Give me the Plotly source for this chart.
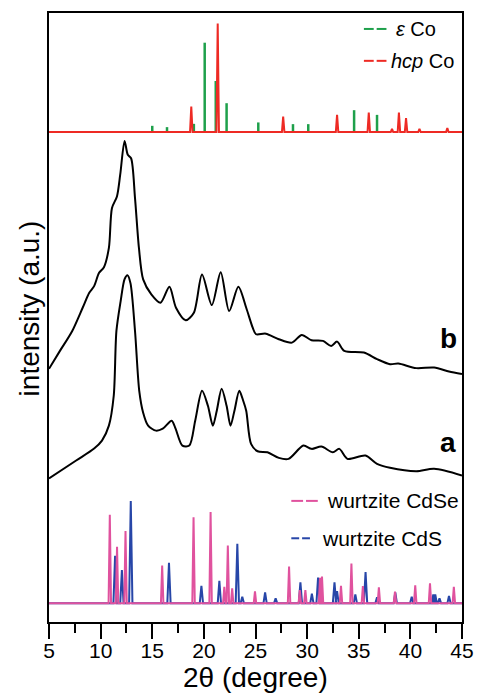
import plotly.graph_objects as go

# ---------------- data ----------------
# hcp Co reference peaks (2theta, relative height)
hcp_pos = [18.78, 21.34, 27.68, 32.9, 35.97, 38.22, 38.89, 39.58, 40.88, 43.58]
hcp_h   = [25.7, 109, 15.7, 17.3, 19.7, 3.3, 19.7, 14, 3.3, 4]
# epsilon Co reference sticks
eps_pos = [15.0, 16.43, 19.03, 20.08, 21.15, 22.2, 25.27, 28.63, 30.11, 34.55, 36.77]
eps_h   = [6.3, 5, 8.3, 89.7, 51.3, 29, 9.7, 8, 8, 22, 17.3]

# wurtzite CdSe reference peaks
cdse_pos = [10.89, 11.59, 12.41, 15.96, 19.0, 20.65, 21.98, 22.32, 22.74, 24.95, 28.25,
            29.29, 29.83, 31.25, 31.44, 33.28, 34.29, 35.4, 36.95, 38.51, 40.47, 41.9, 44.21]
cdse_h   = [89, 56.7, 72.7, 38, 86.3, 91.7, 16.7, 58, 15, 12, 37,
            13.3, 13.3, 25.7, 27, 17.7, 40, 17.3, 16, 11.7, 18, 20, 16.7]
# wurtzite CdS reference peaks
cds_pos = [11.4, 12.06, 12.92, 16.62, 19.76, 21.5, 23.24, 23.72, 25.93, 26.95, 29.35, 30.46,
           31.06, 32.65, 32.9, 34.67, 35.66, 36.77, 38.54, 40.13, 42.22, 42.41, 42.82, 43.74]
cds_h   = [47.7, 33.3, 102.7, 40.7, 17.7, 22.7, 59.7, 6.7, 11, 5, 21, 9.7,
           26, 21, 12.3, 9, 31.3, 6, 11, 6.7, 9, 9, 5, 7.3]

# measured pattern b (upper)
b_x = [5.0, 6.0, 7.25, 8.26, 8.9, 9.37, 9.85, 10.32, 10.8, 11.1, 11.58, 11.9, 12.32, 12.63,
       12.95, 13.33, 13.71, 14.12, 14.91, 15.8, 16.66, 17.3, 18.24, 19.03, 19.82, 20.77,
       21.63, 22.45, 23.34, 24.1, 24.73, 25.05, 26.0, 27.26, 28.53, 29.48, 30.43, 31.53,
       32.33, 32.9, 33.6, 35.5, 36.77, 38.03, 38.83, 40.57, 42.3, 43.74, 45.0]
b_y = [254, 271, 292, 315.3, 330.3, 337, 350.3, 356, 375.3, 415.3, 427, 449, 482.7, 468.7,
       465.3, 425.3, 375.3, 343.7, 328.7, 320.3, 336.3, 315.3, 302.7, 310.3, 348.7, 318,
       351, 312, 336.3, 315.3, 295.3, 288.7, 289.3, 283.7, 280.3, 288, 282.7, 282,
       277, 281.3, 272, 270.3, 263.7, 258.7, 259.3, 254.7, 255.3, 251.3, 248.7]

# measured pattern a (lower)
a_x = [5.0, 7.63, 9.37, 10.13, 10.8, 11.27, 11.53, 11.94, 12.32, 12.6, 12.89, 13.33, 13.74,
       14.12, 14.6, 15.36, 16.02, 16.88, 17.26, 17.92, 18.59, 19.16, 19.82, 20.39, 20.87,
       21.25, 21.72, 22.2, 22.58, 22.96, 23.43, 23.81, 24.1, 24.57, 25.2, 26.16, 27.26,
       28.2, 29.64, 30.43, 31.38, 32.49, 33.12, 33.9, 35.65, 36.77, 38.03, 40.57, 42.3, 45.0]
a_y = [144, 162, 174, 182, 197, 227, 292, 322, 344, 348, 340, 292, 232,
       210, 197, 192, 194, 202, 194, 177, 177, 202, 232, 217, 197,
       212, 234, 217, 197, 212, 232, 222, 212, 178.7, 171.3, 170.3, 164.7,
       163.7, 177, 173.7, 176, 170.3, 173.7, 163.7, 167, 158.7, 154.7, 151.3, 153.7, 147]

co_base = 491.5
cd_base = 18.7

GREEN = "#1ea04b"
RED = "#ee2a24"
PINK = "#e0529e"
BLUE = "#2746a8"
FONT = "Liberation Sans, Arial, sans-serif"


def peak_line(pos, h, base, hw):
    xs, ys = [5.0], [base]
    for p, v in sorted(zip(pos, h)):
        xs += [p - hw, p, p + hw]
        ys += [base, base + v, base]
    xs.append(45.0)
    ys.append(base)
    return xs, ys


def sticks(pos, h, base):
    xs, ys = [], []
    for p, v in zip(pos, h):
        xs += [p, p, None]
        ys += [base, base + v, None]
    return xs, ys


fig = go.Figure()

ex, ey = sticks(eps_pos, eps_h, co_base)
fig.add_trace(go.Scatter(x=ex, y=ey, mode="lines", line=dict(color=GREEN, width=2.5),
                         showlegend=False, hoverinfo="skip"))
rx, ry = peak_line(hcp_pos, hcp_h, co_base, 0.12)
fig.add_trace(go.Scatter(x=rx, y=ry, mode="lines", line=dict(color=RED, width=2),
                         showlegend=False, hoverinfo="skip"))

fig.add_trace(go.Scatter(x=b_x, y=b_y, mode="lines", line=dict(color="black", width=2, shape="spline", smoothing=0.8),
                         showlegend=False))
fig.add_trace(go.Scatter(x=a_x, y=a_y, mode="lines", line=dict(color="black", width=2, shape="spline", smoothing=0.8),
                         showlegend=False))

bx, by = peak_line(cds_pos, cds_h, cd_base, 0.16)
fig.add_trace(go.Scatter(x=bx, y=by, mode="lines", line=dict(color=BLUE, width=2),
                         showlegend=False, hoverinfo="skip"))
px_, py_ = peak_line(cdse_pos, cdse_h, cd_base, 0.12)
fig.add_trace(go.Scatter(x=px_, y=py_, mode="lines", line=dict(color=PINK, width=2),
                         showlegend=False, hoverinfo="skip"))

# ---------------- layout ----------------
L, R, T, B = 49, 470, 11, 622
W_PLOT, H_PLOT = R - L, B - T


def xp(px):
    return (px - L) / W_PLOT


def yp(py):
    return (B - py) / H_PLOT


shapes = []
for (x0, x1, yy, col) in [(370, 393, 27, GREEN), (370, 393, 59, RED),
                          (296, 323, 500.5, PINK), (296, 315, 538, BLUE)]:
    mid = (x0 + x1) / 2
    shapes.append(dict(type="line", xref="paper", yref="paper", x0=xp(x0), x1=xp(mid - 1.5),
                       y0=yp(yy), y1=yp(yy), line=dict(color=col, width=2)))
    shapes.append(dict(type="line", xref="paper", yref="paper", x0=xp(mid + 1.5), x1=xp(x1),
                       y0=yp(yy), y1=yp(yy), line=dict(color=col, width=2)))

annotations = [
    dict(text="<i>ε</i> Co", x=xp(401), y=yp(27), xanchor="left", yanchor="middle",
         font=dict(size=20, family=FONT, color="black")),
    dict(text="<i>hcp</i> Co", x=xp(396), y=yp(59), xanchor="left", yanchor="middle",
         font=dict(size=20, family=FONT, color="black")),
    dict(text="wurtzite CdSe", x=xp(330), y=yp(500), xanchor="left", yanchor="middle",
         font=dict(size=21, family=FONT, color="black")),
    dict(text="wurtzite CdS", x=xp(325), y=yp(538), xanchor="left", yanchor="middle",
         font=dict(size=21, family=FONT, color="black")),
    dict(text="<b>b</b>", x=xp(456), y=yp(338), xanchor="center", yanchor="middle",
         font=dict(size=28, family=FONT, color="black")),
    dict(text="<b>a</b>", x=xp(456), y=yp(442), xanchor="center", yanchor="middle",
         font=dict(size=28, family=FONT, color="black")),
    dict(text="intensity (a.u.)", x=xp(29), y=yp(307), xanchor="center", yanchor="middle",
         textangle=-90, font=dict(size=28, family=FONT, color="black")),
    dict(text="2θ (degree)", x=xp(260), y=yp(678), xanchor="center", yanchor="middle",
         font=dict(size=28, family=FONT, color="black")),
]
for a in annotations:
    a.update(xref="paper", yref="paper", showarrow=False)

fig.update_layout(
    width=485, height=694,
    margin=dict(l=L, r=485 - R, t=T, b=694 - B),
    paper_bgcolor="white", plot_bgcolor="white",
    shapes=shapes, annotations=annotations,
    font=dict(family=FONT, color="black"),
    xaxis=dict(range=[5, 45], tickvals=[5, 10, 15, 20, 25, 30, 35, 40, 45],
               ticks="outside", ticklen=15, tickwidth=2, tickcolor="black",
               ticklabelstandoff=-6,
               minor=dict(dtick=2.5, tick0=5, ticks="outside", ticklen=9, tickwidth=2, tickcolor="black"),
               showline=True, linewidth=2, linecolor="black", mirror=True,
               showgrid=False, zeroline=False, tickfont=dict(size=21, family=FONT, color="black")),
    yaxis=dict(range=[0, H_PLOT], showticklabels=False, ticks="", showgrid=False, zeroline=False,
               showline=True, linewidth=2, linecolor="black", mirror=True),
)

fig.write_html("out.html")
